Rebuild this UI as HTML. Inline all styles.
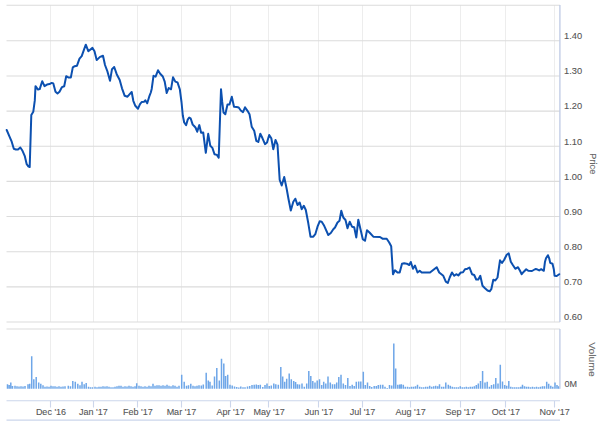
<!DOCTYPE html><html><head><meta charset="utf-8"><style>html,body{margin:0;padding:0;background:#fff;}svg{display:block;}text{font-family:"Liberation Sans",Arial,sans-serif;}.l{fill:#555;stroke:#555;stroke-width:0.1px;}.t{fill:#666;stroke:#666;stroke-width:0.1px;}</style></head><body>
<svg width="601" height="426" viewBox="0 0 601 426">
<rect width="601" height="426" fill="#fff"/>
<path d="M50.5 5.0V322.0M50.5 329.0V388.7M93.5 5.0V322.0M93.5 329.0V388.7M137.5 5.0V322.0M137.5 329.0V388.7M181.5 5.0V322.0M181.5 329.0V388.7M230.5 5.0V322.0M230.5 329.0V388.7M268.5 5.0V322.0M268.5 329.0V388.7M318.5 5.0V322.0M318.5 329.0V388.7M362.5 5.0V322.0M362.5 329.0V388.7M410.5 5.0V322.0M410.5 329.0V388.7M460.5 5.0V322.0M460.5 329.0V388.7M505.5 5.0V322.0M505.5 329.0V388.7M554.5 5.0V322.0M554.5 329.0V388.7" stroke="#ededed" stroke-width="1" fill="none"/>
<path d="M6.5 5.20H560.0M6.5 40.80H560.0M6.5 75.95H560.0M6.5 111.10H560.0M6.5 146.25H560.0M6.5 181.40H560.0M6.5 216.55H560.0M6.5 251.70H560.0M6.5 286.85H560.0M6.5 322.00H560.0M6.5 329.00H560.0" stroke="#dcdcdc" stroke-width="1.1" fill="none"/>
<path d="M6.75 388.7h1.5v-4.5h-1.5zM8.45 388.7h1.5v-3.7h-1.5zM10.05 388.7h1.5v-6.2h-1.5zM11.75 388.7h1.5v-2.8h-1.5zM14.25 388.7h1.5v-3.0h-1.5zM16.25 388.7h1.5v-2.5h-1.5zM18.25 388.7h1.5v-2.2h-1.5zM20.25 388.7h1.5v-2.5h-1.5zM22.25 388.7h1.5v-2.2h-1.5zM24.25 388.7h1.5v-2.8h-1.5zM27.25 388.7h1.5v-4.5h-1.5zM28.95 388.7h1.5v-5.0h-1.5zM30.95 388.7h1.5v-32.4h-1.5zM33.05 388.7h1.5v-9.5h-1.5zM35.45 388.7h1.5v-11.7h-1.5zM37.95 388.7h1.5v-6.2h-1.5zM40.05 388.7h1.5v-5.0h-1.5zM42.25 388.7h1.5v-3.5h-1.5zM44.25 388.7h1.5v-2.0h-1.5zM46.25 388.7h1.5v-2.2h-1.5zM48.25 388.7h1.5v-2.0h-1.5zM50.25 388.7h1.5v-3.0h-1.5zM52.25 388.7h1.5v-2.5h-1.5zM54.25 388.7h1.5v-2.5h-1.5zM56.25 388.7h1.5v-2.0h-1.5zM58.25 388.7h1.5v-2.5h-1.5zM60.25 388.7h1.5v-2.0h-1.5zM62.25 388.7h1.5v-2.2h-1.5zM64.25 388.7h1.5v-2.5h-1.5zM67.55 388.7h1.5v-3.0h-1.5zM69.75 388.7h1.5v-2.5h-1.5zM72.05 388.7h1.5v-7.8h-1.5zM74.55 388.7h1.5v-7.0h-1.5zM77.05 388.7h1.5v-5.0h-1.5zM79.25 388.7h1.5v-3.5h-1.5zM81.25 388.7h1.5v-7.0h-1.5zM83.45 388.7h1.5v-4.5h-1.5zM85.45 388.7h1.5v-5.7h-1.5zM87.75 388.7h1.5v-2.0h-1.5zM89.75 388.7h1.5v-1.5h-1.5zM91.75 388.7h1.5v-1.5h-1.5zM94.25 388.7h1.5v-2.0h-1.5zM96.25 388.7h1.5v-1.5h-1.5zM98.25 388.7h1.5v-2.0h-1.5zM100.25 388.7h1.5v-2.0h-1.5zM102.25 388.7h1.5v-2.5h-1.5zM104.25 388.7h1.5v-2.2h-1.5zM106.25 388.7h1.5v-2.5h-1.5zM108.25 388.7h1.5v-2.0h-1.5zM110.25 388.7h1.5v-1.5h-1.5zM112.25 388.7h1.5v-1.5h-1.5zM114.25 388.7h1.5v-2.0h-1.5zM116.25 388.7h1.5v-2.5h-1.5zM118.25 388.7h1.5v-3.0h-1.5zM120.25 388.7h1.5v-3.0h-1.5zM122.25 388.7h1.5v-2.0h-1.5zM124.25 388.7h1.5v-2.5h-1.5zM126.25 388.7h1.5v-2.2h-1.5zM128.25 388.7h1.5v-3.0h-1.5zM130.25 388.7h1.5v-2.5h-1.5zM132.25 388.7h1.5v-2.0h-1.5zM134.25 388.7h1.5v-2.5h-1.5zM135.95 388.7h1.5v-5.4h-1.5zM138.25 388.7h1.5v-3.0h-1.5zM140.25 388.7h1.5v-2.5h-1.5zM142.25 388.7h1.5v-2.0h-1.5zM144.25 388.7h1.5v-2.5h-1.5zM146.25 388.7h1.5v-2.0h-1.5zM148.25 388.7h1.5v-3.0h-1.5zM150.25 388.7h1.5v-2.5h-1.5zM152.25 388.7h1.5v-5.0h-1.5zM154.25 388.7h1.5v-3.0h-1.5zM156.25 388.7h1.5v-3.5h-1.5zM158.25 388.7h1.5v-3.5h-1.5zM160.25 388.7h1.5v-3.0h-1.5zM162.25 388.7h1.5v-3.5h-1.5zM164.25 388.7h1.5v-3.0h-1.5zM166.25 388.7h1.5v-4.0h-1.5zM168.25 388.7h1.5v-3.0h-1.5zM170.25 388.7h1.5v-2.5h-1.5zM172.25 388.7h1.5v-3.5h-1.5zM174.25 388.7h1.5v-3.0h-1.5zM176.25 388.7h1.5v-2.0h-1.5zM178.25 388.7h1.5v-3.0h-1.5zM180.95 388.7h1.5v-14.0h-1.5zM183.45 388.7h1.5v-7.0h-1.5zM185.75 388.7h1.5v-3.0h-1.5zM187.75 388.7h1.5v-3.5h-1.5zM190.05 388.7h1.5v-5.0h-1.5zM192.25 388.7h1.5v-3.0h-1.5zM194.25 388.7h1.5v-2.5h-1.5zM196.25 388.7h1.5v-3.0h-1.5zM198.25 388.7h1.5v-3.5h-1.5zM200.55 388.7h1.5v-3.2h-1.5zM202.55 388.7h1.5v-4.3h-1.5zM205.45 388.7h1.5v-16.0h-1.5zM207.55 388.7h1.5v-8.3h-1.5zM209.25 388.7h1.5v-7.0h-1.5zM211.45 388.7h1.5v-3.3h-1.5zM213.75 388.7h1.5v-12.3h-1.5zM216.05 388.7h1.5v-20.7h-1.5zM218.55 388.7h1.5v-8.3h-1.5zM220.75 388.7h1.5v-30.0h-1.5zM223.05 388.7h1.5v-25.3h-1.5zM224.85 388.7h1.5v-12.8h-1.5zM226.95 388.7h1.5v-14.0h-1.5zM229.25 388.7h1.5v-4.0h-1.5zM231.45 388.7h1.5v-3.2h-1.5zM233.75 388.7h1.5v-2.3h-1.5zM235.95 388.7h1.5v-1.7h-1.5zM238.05 388.7h1.5v-1.2h-1.5zM240.05 388.7h1.5v-2.3h-1.5zM242.25 388.7h1.5v-1.5h-1.5zM244.25 388.7h1.5v-1.5h-1.5zM246.75 388.7h1.5v-2.3h-1.5zM248.95 388.7h1.5v-2.7h-1.5zM251.25 388.7h1.5v-3.7h-1.5zM253.45 388.7h1.5v-4.0h-1.5zM255.55 388.7h1.5v-4.3h-1.5zM257.55 388.7h1.5v-3.7h-1.5zM259.55 388.7h1.5v-4.0h-1.5zM262.05 388.7h1.5v-1.7h-1.5zM264.25 388.7h1.5v-3.7h-1.5zM266.25 388.7h1.5v-5.3h-1.5zM268.45 388.7h1.5v-2.8h-1.5zM270.55 388.7h1.5v-3.2h-1.5zM273.05 388.7h1.5v-5.3h-1.5zM275.05 388.7h1.5v-4.5h-1.5zM277.55 388.7h1.5v-4.0h-1.5zM280.05 388.7h1.5v-21.7h-1.5zM281.95 388.7h1.5v-12.3h-1.5zM283.95 388.7h1.5v-7.0h-1.5zM285.95 388.7h1.5v-10.0h-1.5zM288.45 388.7h1.5v-15.3h-1.5zM290.55 388.7h1.5v-9.5h-1.5zM292.95 388.7h1.5v-7.8h-1.5zM294.85 388.7h1.5v-6.7h-1.5zM296.75 388.7h1.5v-4.5h-1.5zM298.75 388.7h1.5v-4.2h-1.5zM301.25 388.7h1.5v-5.3h-1.5zM303.55 388.7h1.5v-2.0h-1.5zM305.95 388.7h1.5v-5.3h-1.5zM308.05 388.7h1.5v-17.8h-1.5zM310.05 388.7h1.5v-12.8h-1.5zM312.05 388.7h1.5v-7.8h-1.5zM314.25 388.7h1.5v-6.2h-1.5zM316.45 388.7h1.5v-8.3h-1.5zM318.75 388.7h1.5v-9.5h-1.5zM320.95 388.7h1.5v-3.7h-1.5zM322.95 388.7h1.5v-7.0h-1.5zM325.05 388.7h1.5v-5.3h-1.5zM327.25 388.7h1.5v-12.3h-1.5zM329.55 388.7h1.5v-6.2h-1.5zM331.75 388.7h1.5v-4.5h-1.5zM333.95 388.7h1.5v-4.5h-1.5zM335.95 388.7h1.5v-6.2h-1.5zM338.05 388.7h1.5v-11.7h-1.5zM340.25 388.7h1.5v-14.0h-1.5zM342.55 388.7h1.5v-5.3h-1.5zM344.75 388.7h1.5v-3.7h-1.5zM347.05 388.7h1.5v-10.7h-1.5zM349.25 388.7h1.5v-2.8h-1.5zM351.45 388.7h1.5v-4.0h-1.5zM353.45 388.7h1.5v-2.8h-1.5zM355.55 388.7h1.5v-7.0h-1.5zM357.95 388.7h1.5v-7.3h-1.5zM360.05 388.7h1.5v-7.3h-1.5zM362.55 388.7h1.5v-17.0h-1.5zM364.55 388.7h1.5v-3.7h-1.5zM366.75 388.7h1.5v-6.2h-1.5zM368.95 388.7h1.5v-2.8h-1.5zM370.95 388.7h1.5v-1.7h-1.5zM373.45 388.7h1.5v-2.8h-1.5zM375.55 388.7h1.5v-2.8h-1.5zM377.55 388.7h1.5v-3.7h-1.5zM379.75 388.7h1.5v-4.0h-1.5zM382.05 388.7h1.5v-4.0h-1.5zM384.25 388.7h1.5v-2.0h-1.5zM386.45 388.7h1.5v-0.7h-1.5zM388.75 388.7h1.5v-3.7h-1.5zM390.95 388.7h1.5v-3.3h-1.5zM393.05 388.7h1.5v-45.3h-1.5zM394.95 388.7h1.5v-20.3h-1.5zM397.05 388.7h1.5v-4.0h-1.5zM398.95 388.7h1.5v-4.2h-1.5zM400.55 388.7h1.5v-4.5h-1.5zM402.55 388.7h1.5v-4.0h-1.5zM404.55 388.7h1.5v-2.0h-1.5zM406.75 388.7h1.5v-2.0h-1.5zM408.75 388.7h1.5v-1.5h-1.5zM410.75 388.7h1.5v-2.0h-1.5zM412.75 388.7h1.5v-2.0h-1.5zM414.75 388.7h1.5v-2.5h-1.5zM416.75 388.7h1.5v-4.0h-1.5zM418.95 388.7h1.5v-2.0h-1.5zM420.95 388.7h1.5v-1.5h-1.5zM422.95 388.7h1.5v-1.5h-1.5zM424.95 388.7h1.5v-2.0h-1.5zM426.95 388.7h1.5v-2.0h-1.5zM428.95 388.7h1.5v-3.0h-1.5zM430.95 388.7h1.5v-2.0h-1.5zM432.95 388.7h1.5v-2.5h-1.5zM434.95 388.7h1.5v-3.0h-1.5zM436.95 388.7h1.5v-2.5h-1.5zM438.75 388.7h1.5v-4.5h-1.5zM440.95 388.7h1.5v-2.0h-1.5zM442.95 388.7h1.5v-2.0h-1.5zM445.05 388.7h1.5v-6.2h-1.5zM447.55 388.7h1.5v-4.0h-1.5zM449.55 388.7h1.5v-3.0h-1.5zM451.55 388.7h1.5v-2.0h-1.5zM453.55 388.7h1.5v-1.5h-1.5zM455.55 388.7h1.5v-1.5h-1.5zM457.55 388.7h1.5v-1.5h-1.5zM459.55 388.7h1.5v-2.5h-1.5zM461.55 388.7h1.5v-1.5h-1.5zM463.55 388.7h1.5v-1.5h-1.5zM465.55 388.7h1.5v-2.0h-1.5zM467.55 388.7h1.5v-1.5h-1.5zM469.55 388.7h1.5v-2.0h-1.5zM471.55 388.7h1.5v-2.0h-1.5zM473.55 388.7h1.5v-2.5h-1.5zM475.55 388.7h1.5v-3.7h-1.5zM477.55 388.7h1.5v-5.3h-1.5zM479.75 388.7h1.5v-7.8h-1.5zM481.85 388.7h1.5v-17.8h-1.5zM484.25 388.7h1.5v-6.2h-1.5zM486.45 388.7h1.5v-7.0h-1.5zM488.65 388.7h1.5v-2.0h-1.5zM490.75 388.7h1.5v-3.7h-1.5zM492.95 388.7h1.5v-4.5h-1.5zM495.05 388.7h1.5v-10.7h-1.5zM497.25 388.7h1.5v-5.3h-1.5zM499.55 388.7h1.5v-24.0h-1.5zM501.75 388.7h1.5v-7.3h-1.5zM503.95 388.7h1.5v-3.7h-1.5zM505.95 388.7h1.5v-3.0h-1.5zM508.05 388.7h1.5v-7.8h-1.5zM510.05 388.7h1.5v-2.0h-1.5zM512.05 388.7h1.5v-1.5h-1.5zM514.05 388.7h1.5v-1.5h-1.5zM516.05 388.7h1.5v-1.5h-1.5zM518.05 388.7h1.5v-1.5h-1.5zM520.05 388.7h1.5v-2.0h-1.5zM521.75 388.7h1.5v-4.0h-1.5zM523.75 388.7h1.5v-2.5h-1.5zM525.75 388.7h1.5v-2.0h-1.5zM527.75 388.7h1.5v-2.0h-1.5zM529.75 388.7h1.5v-1.5h-1.5zM531.75 388.7h1.5v-2.0h-1.5zM533.75 388.7h1.5v-1.5h-1.5zM535.75 388.7h1.5v-2.0h-1.5zM537.75 388.7h1.5v-1.5h-1.5zM539.75 388.7h1.5v-2.0h-1.5zM541.75 388.7h1.5v-2.5h-1.5zM543.75 388.7h1.5v-2.5h-1.5zM545.95 388.7h1.5v-7.0h-1.5zM547.95 388.7h1.5v-5.0h-1.5zM550.05 388.7h1.5v-3.0h-1.5zM552.05 388.7h1.5v-2.0h-1.5zM554.25 388.7h1.5v-6.2h-1.5zM556.25 388.7h1.5v-3.7h-1.5zM557.95 388.7h1.5v-2.5h-1.5z" fill="#6ea6e8"/>
<path d="M559.9 5.0V322.0M559.9 329.0V388.7" stroke="#c3cee6" stroke-width="1.4" fill="none"/>
<path d="M6.5 400.80H560.0M6.5 420.10H560.0M50.5 400.8V407.6M93.5 400.8V407.6M137.5 400.8V407.6M181.5 400.8V407.6M230.5 400.8V407.6M268.5 400.8V407.6M318.5 400.8V407.6M362.5 400.8V407.6M410.5 400.8V407.6M460.5 400.8V407.6M505.5 400.8V407.6M554.5 400.8V407.6" stroke="#ccd6eb" stroke-width="1.1" fill="none"/>
<path d="M6.7 130.0 L9.2 135.8 L11.7 141.7 L13.8 148.8 L15.8 149.5 L18.0 149.5 L20.3 147.5 L22.5 150.8 L24.7 155.8 L26.7 164.2 L28.3 166.3 L29.7 167.0 L31.3 115.0 L33.3 111.7 L34.8 100.4 L35.5 86.2 L38.0 89.6 L39.7 89.1 L42.2 81.2 L44.5 86.2 L47.0 84.6 L49.5 84.1 L51.7 82.9 L53.3 83.4 L55.5 91.7 L57.5 93.4 L59.5 91.7 L62.0 87.1 L64.2 86.2 L66.2 76.2 L68.7 77.6 L70.8 77.6 L72.8 67.4 L74.7 66.2 L77.0 65.7 L79.5 58.7 L81.7 56.2 L85.8 44.7 L88.3 51.2 L92.5 47.9 L94.5 51.2 L96.7 60.1 L100.0 56.9 L103.0 55.8 L105.0 65.0 L107.5 71.7 L110.0 80.8 L112.0 69.2 L114.2 67.0 L116.7 74.2 L119.7 80.0 L122.0 88.3 L124.7 95.8 L127.5 96.7 L129.7 94.2 L131.7 92.0 L133.3 100.8 L135.3 105.8 L138.0 108.7 L140.0 104.2 L141.7 102.0 L144.2 101.7 L145.3 100.3 L147.2 103.3 L149.2 96.7 L150.8 92.5 L151.7 89.0 L153.5 75.8 L155.6 76.7 L158.0 70.3 L160.2 73.8 L162.8 76.5 L164.7 81.7 L166.7 93.0 L168.7 88.0 L171.0 89.3 L173.0 77.3 L175.3 81.6 L177.5 82.4 L179.8 89.2 L181.5 102.0 L182.8 115.5 L184.2 122.5 L186.1 125.1 L187.7 119.7 L189.2 117.6 L190.6 118.3 L192.7 124.6 L194.1 126.0 L195.5 127.5 L197.2 131.7 L199.3 125.1 L201.1 132.7 L203.2 132.4 L205.8 152.8 L208.2 133.8 L210.3 145.8 L212.4 147.9 L214.5 154.2 L216.9 154.9 L218.7 157.7 L221.0 89.2 L222.2 101.7 L223.5 112.5 L225.3 114.2 L227.5 104.5 L229.5 104.5 L231.8 96.7 L234.0 106.7 L236.7 107.0 L238.7 107.5 L240.8 110.5 L243.0 112.2 L245.0 107.3 L247.5 110.8 L249.5 114.2 L251.7 126.7 L254.2 130.8 L256.3 140.8 L258.3 142.0 L260.3 133.7 L262.5 138.3 L265.0 144.2 L267.0 142.5 L269.2 135.0 L271.3 138.3 L273.3 149.2 L275.5 140.0 L277.5 144.7 L279.7 180.0 L281.7 185.5 L284.2 177.0 L286.7 189.0 L288.5 199.0 L290.8 210.5 L293.3 201.7 L295.3 198.7 L297.5 205.0 L299.7 202.5 L301.7 209.2 L303.8 205.8 L305.8 210.0 L308.3 223.3 L310.5 236.7 L313.3 236.7 L315.3 234.2 L317.5 226.7 L319.7 221.3 L321.7 221.7 L324.2 225.8 L328.3 235.0 L330.8 233.0 L333.3 229.2 L335.0 227.5 L337.5 222.5 L339.5 220.8 L341.3 210.8 L343.3 217.5 L345.5 220.0 L347.5 228.3 L349.7 221.7 L352.0 226.7 L354.2 227.2 L356.3 237.5 L358.3 219.7 L360.5 229.2 L362.8 239.2 L365.0 240.8 L367.0 230.3 L369.5 232.5 L373.3 236.7 L380.0 237.0 L382.5 238.7 L386.7 238.8 L389.2 242.5 L391.2 246.3 L393.0 274.2 L395.0 270.3 L397.5 272.5 L399.7 272.5 L402.0 263.8 L404.2 263.3 L406.7 263.7 L409.2 265.0 L410.8 262.0 L413.0 268.7 L415.0 265.5 L417.5 272.5 L419.7 270.8 L421.7 272.5 L430.0 272.5 L436.7 267.2 L439.2 272.5 L443.3 275.8 L445.8 281.7 L447.8 283.0 L449.7 277.5 L452.0 272.5 L454.2 275.8 L456.3 274.2 L458.3 275.5 L460.8 272.5 L463.0 272.2 L465.0 269.2 L467.5 268.7 L469.5 267.5 L472.0 274.2 L474.2 275.0 L476.2 279.5 L478.3 279.5 L480.3 275.8 L482.5 285.8 L485.0 288.3 L487.5 290.5 L489.7 291.3 L491.3 289.2 L493.3 279.7 L495.3 280.5 L497.5 277.5 L500.0 260.3 L502.0 263.0 L504.2 259.7 L506.7 254.7 L508.7 253.3 L510.8 261.7 L513.0 265.3 L515.3 268.8 L518.0 267.2 L520.0 270.8 L521.7 274.2 L523.8 271.7 L526.2 269.2 L528.3 270.8 L532.0 271.0 L535.4 269.0 L537.0 269.3 L539.2 270.4 L541.2 269.2 L543.8 270.8 L545.0 261.7 L546.0 258.3 L547.9 255.2 L549.2 258.3 L550.2 262.9 L552.5 263.8 L553.8 269.2 L554.6 275.8 L556.7 276.0 L559.2 274.2" stroke="#0c50b0" stroke-width="2" fill="none" stroke-linejoin="round" stroke-linecap="round"/>
<text x="564.1" y="39.1" font-size="9.3" class="l">1.40</text>
<text x="564.1" y="74.2" font-size="9.3" class="l">1.30</text>
<text x="564.1" y="109.4" font-size="9.3" class="l">1.20</text>
<text x="564.1" y="144.6" font-size="9.3" class="l">1.10</text>
<text x="564.1" y="179.7" font-size="9.3" class="l">1.00</text>
<text x="564.1" y="214.9" font-size="9.3" class="l">0.90</text>
<text x="564.1" y="250.0" font-size="9.3" class="l">0.80</text>
<text x="564.1" y="285.1" font-size="9.3" class="l">0.70</text>
<text x="564.1" y="320.3" font-size="9.3" class="l">0.60</text>
<text x="564.5" y="387" font-size="9" class="l">0M</text>
<text x="51.0" y="415.3" font-size="9" class="l" text-anchor="middle">Dec '16</text>
<text x="93.3" y="415.3" font-size="9" class="l" text-anchor="middle">Jan '17</text>
<text x="137.8" y="415.3" font-size="9" class="l" text-anchor="middle">Feb '17</text>
<text x="181.5" y="415.3" font-size="9" class="l" text-anchor="middle">Mar '17</text>
<text x="230.7" y="415.3" font-size="9" class="l" text-anchor="middle">Apr '17</text>
<text x="269.1" y="415.3" font-size="9" class="l" text-anchor="middle">May '17</text>
<text x="319.0" y="415.3" font-size="9" class="l" text-anchor="middle">Jun '17</text>
<text x="362.5" y="415.3" font-size="9" class="l" text-anchor="middle">Jul '17</text>
<text x="410.6" y="415.3" font-size="9" class="l" text-anchor="middle">Aug '17</text>
<text x="460.5" y="415.3" font-size="9" class="l" text-anchor="middle">Sep '17</text>
<text x="505.8" y="415.3" font-size="9" class="l" text-anchor="middle">Oct '17</text>
<text x="554.7" y="415.3" font-size="9" class="l" text-anchor="middle">Nov '17</text>
<text transform="translate(589.6 163.8) rotate(90)" font-size="9" class="t" text-anchor="middle" textLength="21" lengthAdjust="spacingAndGlyphs">Price</text>
<text transform="translate(588.9 359.4) rotate(90)" font-size="9.5" class="t" text-anchor="middle" textLength="34.5" lengthAdjust="spacingAndGlyphs">Volume</text>
</svg></body></html>
